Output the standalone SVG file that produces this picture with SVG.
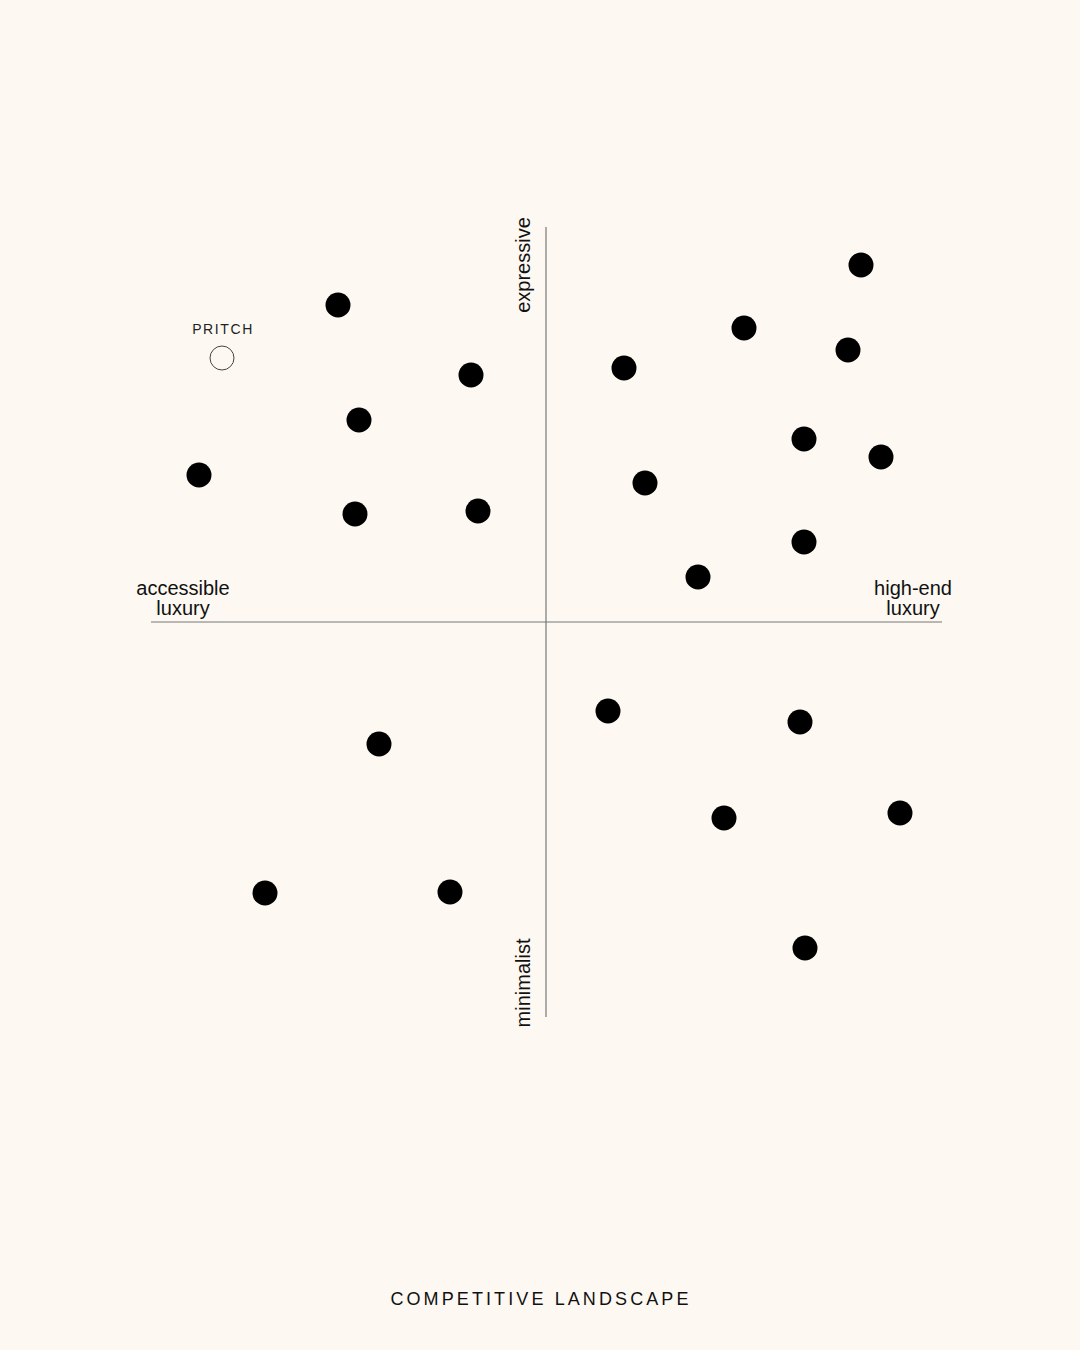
<svg xmlns="http://www.w3.org/2000/svg" width="1080" height="1350" viewBox="0 0 1080 1350">
<style>
.dot{fill:#000}
.lbl{font-family:"Liberation Sans",Arial,sans-serif;font-size:20px;fill:#111;text-anchor:middle}
.axis{stroke:#777;stroke-width:1.2}
</style>
<rect width="1080" height="1350" fill="#fdf9f2"/>
<g id="axes" class="connectors">
<line class="axis" x1="546" y1="227" x2="546" y2="1017"/>
<line class="axis" x1="151" y1="622" x2="942" y2="622"/>
</g>
<g id="axis-labels">
<text class="lbl" transform="translate(530,265) rotate(-90)">expressive</text>
<text class="lbl" transform="translate(530,983) rotate(-90)">minimalist</text>
<text class="lbl" x="183" y="595">accessible</text>
<text class="lbl" x="183" y="615">luxury</text>
<text class="lbl" x="913" y="595">high-end</text>
<text class="lbl" x="913" y="615">luxury</text>
</g>
<g id="pritch">
<text x="223" y="334" style="font-family:'Liberation Sans',Arial,sans-serif;font-size:14px;letter-spacing:1.6px;fill:#222;text-anchor:middle">PRITCH</text>
<circle cx="222" cy="358" r="12" fill="none" stroke="#444" stroke-width="1"/>
</g>
<g id="competitors">
<circle class="dot" cx="861" cy="265" r="12.5"/>
<circle class="dot" cx="338" cy="305" r="12.5"/>
<circle class="dot" cx="744" cy="328" r="12.5"/>
<circle class="dot" cx="848" cy="350" r="12.5"/>
<circle class="dot" cx="471" cy="375" r="12.5"/>
<circle class="dot" cx="624" cy="368" r="12.5"/>
<circle class="dot" cx="359" cy="420" r="12.5"/>
<circle class="dot" cx="804" cy="439" r="12.5"/>
<circle class="dot" cx="881" cy="457" r="12.5"/>
<circle class="dot" cx="199" cy="475" r="12.5"/>
<circle class="dot" cx="645" cy="483" r="12.5"/>
<circle class="dot" cx="355" cy="514" r="12.5"/>
<circle class="dot" cx="478" cy="511" r="12.5"/>
<circle class="dot" cx="804" cy="542" r="12.5"/>
<circle class="dot" cx="698" cy="577" r="12.5"/>
<circle class="dot" cx="608" cy="711" r="12.5"/>
<circle class="dot" cx="800" cy="722" r="12.5"/>
<circle class="dot" cx="379" cy="744" r="12.5"/>
<circle class="dot" cx="724" cy="818" r="12.5"/>
<circle class="dot" cx="900" cy="813" r="12.5"/>
<circle class="dot" cx="265" cy="893" r="12.5"/>
<circle class="dot" cx="450" cy="892" r="12.5"/>
<circle class="dot" cx="805" cy="948" r="12.5"/>
</g>
<g id="title">
<text x="541" y="1305" style="font-family:'Liberation Sans',Arial,sans-serif;font-size:18px;letter-spacing:3.1px;fill:#111;text-anchor:middle">COMPETITIVE LANDSCAPE</text>
</g>
</svg>
